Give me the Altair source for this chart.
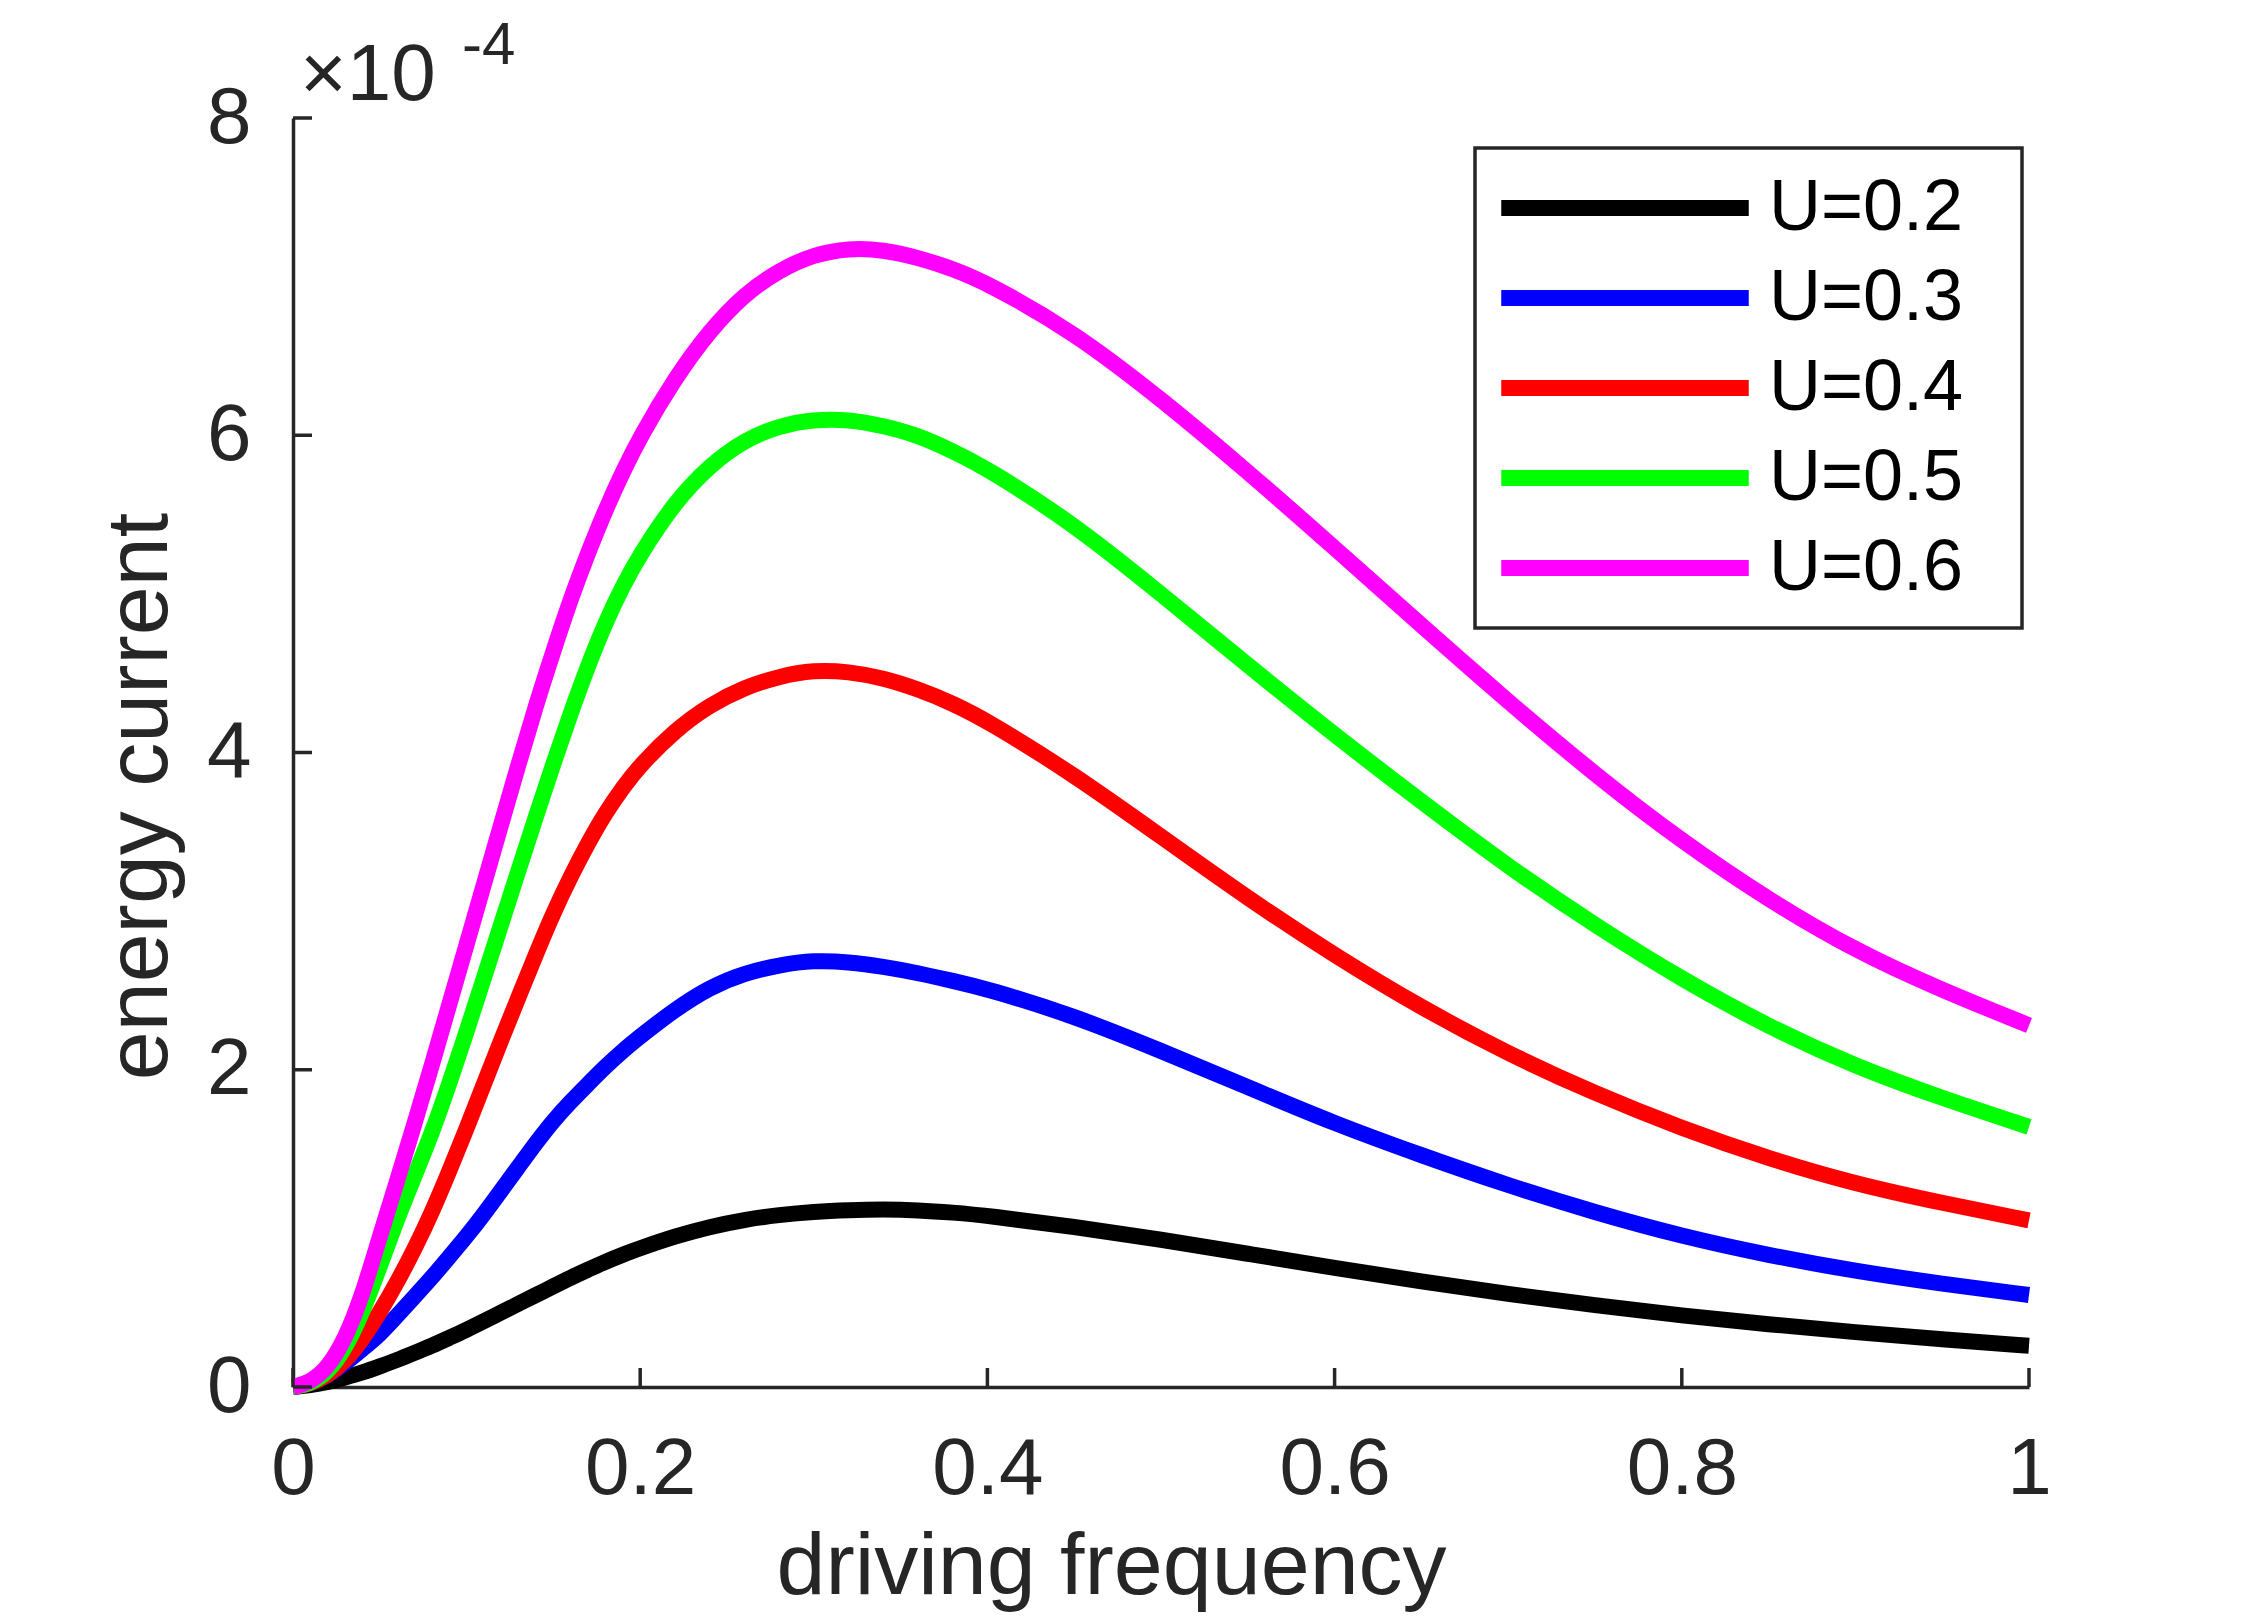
import altair as alt
import pandas as pd

# driving frequency grid (x) and energy current values in units of 1e-4
freq = [0, 0.01, 0.02, 0.03, 0.04, 0.05, 0.06, 0.07, 0.08, 0.09, 0.10, 0.11, 0.12, 0.13,
        0.14, 0.15, 0.16, 0.17, 0.18, 0.19, 0.20, 0.22, 0.24, 0.26, 0.28, 0.30, 0.32, 0.34,
        0.36, 0.38, 0.40, 0.45, 0.50, 0.55, 0.60, 0.65, 0.70, 0.75, 0.80, 0.85, 0.90, 0.95, 1.00]

u02 = [0, 0.01, 0.03, 0.06, 0.09, 0.13, 0.17, 0.215, 0.26, 0.31, 0.36, 0.415, 0.47, 0.525,
       0.58, 0.635, 0.69, 0.74, 0.79, 0.835, 0.875, 0.95, 1.01, 1.055, 1.085, 1.105, 1.115, 1.12,
       1.115, 1.10, 1.08, 1.01, 0.93, 0.84, 0.75, 0.665, 0.585, 0.515, 0.45, 0.395, 0.345, 0.30, 0.26]

u03 = [0, 0.02, 0.07, 0.15, 0.24, 0.33, 0.45, 0.57, 0.69, 0.82, 0.95, 1.09, 1.24, 1.39,
       1.54, 1.68, 1.80, 1.91, 2.02, 2.12, 2.21, 2.38, 2.52, 2.61, 2.66, 2.69, 2.68, 2.65,
       2.61, 2.56, 2.51, 2.34, 2.12, 1.89, 1.66, 1.46, 1.27, 1.10, 0.95, 0.83, 0.73, 0.65, 0.58]

u04 = [0, 0.02, 0.07, 0.16, 0.30, 0.47, 0.66, 0.87, 1.10, 1.36, 1.63, 1.91, 2.19, 2.46,
       2.73, 2.99, 3.22, 3.43, 3.62, 3.78, 3.92, 4.14, 4.30, 4.41, 4.48, 4.52, 4.51, 4.47,
       4.40, 4.31, 4.20, 3.86, 3.47, 3.08, 2.72, 2.39, 2.10, 1.85, 1.63, 1.44, 1.28, 1.16, 1.05]

u05 = [0, 0.02, 0.09, 0.24, 0.47, 0.76, 1.06, 1.33, 1.60, 1.91, 2.24, 2.58, 2.92, 3.26,
       3.60, 3.93, 4.25, 4.55, 4.82, 5.05, 5.25, 5.58, 5.81, 5.97, 6.06, 6.10, 6.10, 6.06,
       6.00, 5.90, 5.79, 5.44, 5.00, 4.55, 4.11, 3.69, 3.28, 2.91, 2.57, 2.27, 2.02, 1.82, 1.64]

u06 = [0, 0.03, 0.12, 0.30, 0.58, 0.95, 1.30, 1.66, 2.03, 2.41, 2.79, 3.17, 3.55, 3.93,
       4.30, 4.64, 4.97, 5.26, 5.53, 5.77, 5.99, 6.36, 6.66, 6.89, 7.04, 7.14, 7.18, 7.17,
       7.12, 7.05, 6.96, 6.65, 6.23, 5.77, 5.29, 4.80, 4.32, 3.86, 3.44, 3.07, 2.75, 2.50, 2.28]

series_labels = ["U=0.2", "U=0.3", "U=0.4", "U=0.5", "U=0.6"]
series_colors = ["#000000", "#0000ff", "#ff0000", "#00ff00", "#ff00ff"]
series_values = [u02, u03, u04, u05, u06]

x_ticks = [0, 0.2, 0.4, 0.6, 0.8, 1.0]
y_ticks = [0, 2, 4, 6, 8]

rows = []
for order, (lab, vals) in enumerate(zip(series_labels, series_values)):
    for f, v in zip(freq, vals):
        rows.append({"freq": f, "current": v, "U": lab, "ord": order})
df = pd.DataFrame(rows)

W, H = 1736, 1269
FONT = "Liberation Sans"
AX = "#262626"
LW = 16

xscale = alt.Scale(domain=[0, 1], nice=False, zero=False)
yscale = alt.Scale(domain=[0, 8], nice=False)

x_axis = alt.Axis(values=x_ticks, format="~g", ticks=False, tickSize=0, grid=False,
                  labelPadding=43, labelFontSize=80, labelFont=FONT, labelColor=AX,
                  labelFlush=False, domainColor=AX, domainWidth=3.5,
                  title="driving frequency", titleFont=FONT, titleFontSize=88,
                  titleFontWeight="normal", titleColor=AX, titleX=818, titleY=206,
                  titleBaseline="alphabetic", titleAlign="center")
y_axis = alt.Axis(values=y_ticks, format="~g", ticks=False, tickSize=0, grid=False,
                  labelPadding=42, labelFontSize=80, labelFont=FONT, labelColor=AX,
                  labelFlush=False, domainColor=AX, domainWidth=3.5,
                  title="energy current", titleFont=FONT, titleFontSize=88,
                  titleFontWeight="normal", titleColor=AX, titleX=-127, titleY=678,
                  titleBaseline="alphabetic", titleAlign="center", titleAngle=270)

# legend symbol: a long horizontal stroke drawn with a small symbol size so rows stay compact
SYM = 45
legend = alt.Legend(orient="none", legendX=1182, legendY=30, title=None,
                    symbolType="M-5.5,0H5.5", symbolSize=SYM * SYM,
                    symbolStrokeWidth=LW, symbolOffset=90,
                    labelFontSize=72, labelFont=FONT, labelColor="#000000",
                    labelOffset=108, labelLimit=600, rowPadding=18,
                    labelExpr="datum.label + '\u00a0\u2009\u200b'",
                    padding=24, strokeColor=AX, fillColor="#ffffff")

lines = alt.Chart(df).mark_line(strokeWidth=LW, interpolate="basis",
                                strokeCap="butt", strokeJoin="round").encode(
    x=alt.X("freq:Q", scale=xscale, axis=x_axis),
    y=alt.Y("current:Q", scale=yscale, axis=y_axis),
    color=alt.Color("U:N", scale=alt.Scale(domain=series_labels, range=series_colors),
                    legend=legend),
    order=alt.Order("ord:Q"),
)

xt = alt.Chart(pd.DataFrame({"xt": x_ticks})).mark_rule(color=AX, strokeWidth=3.5).encode(
    x=alt.X("xt:Q", scale=xscale, axis=x_axis),
    y=alt.value(H), y2=alt.value(H - 19),
)
yt = alt.Chart(pd.DataFrame({"yt": y_ticks})).mark_rule(color=AX, strokeWidth=3.5).encode(
    y=alt.Y("yt:Q", scale=yscale, axis=y_axis),
    x=alt.value(0), x2=alt.value(19),
)

mult = alt.Chart(pd.DataFrame({"t": ["×10"]})).mark_text(
    font=FONT, fontSize=80, color=AX, align="left", baseline="alphabetic").encode(
    text="t:N", x=alt.value(7), y=alt.value(-18))
expo = alt.Chart(pd.DataFrame({"t": ["-4"]})).mark_text(
    font=FONT, fontSize=60, color=AX, align="left", baseline="alphabetic").encode(
    text="t:N", x=alt.value(169), y=alt.value(-54))

chart = alt.layer(lines, xt, yt, mult, expo).properties(
    width=W, height=H,
    padding={"left": 285, "top": 110, "right": 190, "bottom": 226},
    autosize=alt.AutoSizeParams(type="none"),
    background="#ffffff",
).configure_view(strokeWidth=0).configure_legend(strokeWidth=3.5)

chart.save("out.html", embed_options={"renderer": "svg", "actions": False})
